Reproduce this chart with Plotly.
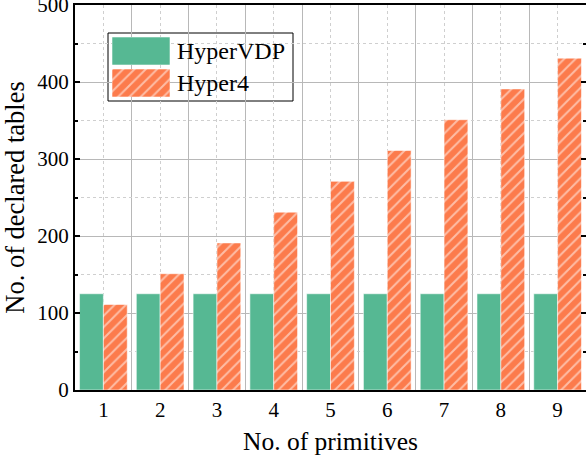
import plotly.graph_objects as go

# Data
primitives = [1, 2, 3, 4, 5, 6, 7, 8, 9]
hypervdp_tables = [125, 125, 125, 125, 125, 125, 125, 125, 125]
hyper4_tables = [111, 151, 191, 231, 271, 311, 351, 391, 431]
series_names = ["HyperVDP", "Hyper4"]
y_ticks = [0, 100, 200, 300, 400, 500]

GREEN = "#56B893"
ORANGE = "#FC7B4C"
FONT = "Liberation Serif, Times New Roman, serif"
GRID_SOLID = "#b8b8b8"
GRID_DOT = "#cfcfcf"
HATCH = dict(shape="/", fgcolor="white", bgcolor=ORANGE, size=8, solidity=0.25)
EDGE = dict(color="rgba(255,255,255,0.55)", width=1)

fig = go.Figure()

fig.add_trace(go.Bar(
    x=primitives, y=hypervdp_tables, name=series_names[0],
    marker=dict(color=GREEN, line=EDGE), showlegend=False,
))
fig.add_trace(go.Bar(
    x=primitives, y=hyper4_tables, name=series_names[1],
    marker=dict(color=ORANGE, line=EDGE, pattern=HATCH), showlegend=False,
))

# Legend swatches as small bar subplots
fig.add_trace(go.Bar(
    x=[1], y=[0], orientation="h", width=1, xaxis="x2", yaxis="y2",
    marker=dict(color=GREEN, line=EDGE), showlegend=False, hoverinfo="skip",
))
fig.add_trace(go.Bar(
    x=[1], y=[0], orientation="h", width=1, xaxis="x3", yaxis="y3",
    marker=dict(color=ORANGE, line=EDGE, pattern=HATCH), showlegend=False, hoverinfo="skip",
))

W, H = 586, 458
ML, MR, MT, MB = 75, 0, 5, 68
pw, ph = W - ML - MR, H - MT - MB


def px_x(v):
    return (v - ML) / pw


def px_y(v):
    return (H - MB - v) / ph


swatch_x = [px_x(112), px_x(170)]

fig.update_layout(
    width=W, height=H,
    margin=dict(l=ML, r=MR, t=MT, b=MB, autoexpand=False),
    paper_bgcolor="white", plot_bgcolor="white",
    barmode="group", bargap=0.16, bargroupgap=0,
    font=dict(family=FONT, color="black", size=21),
    showlegend=False,
    xaxis=dict(
        range=[0.5, 9.5], tickvals=primitives, ticktext=[str(p) for p in primitives],
        showline=True, linecolor="black", linewidth=2, mirror=True, automargin=False,
        ticks="", showgrid=True, gridcolor=GRID_DOT, gridwidth=1, griddash="3px,3px",
        minor=dict(tickvals=[p + 0.5 for p in primitives[:-1]], showgrid=True,
                   gridcolor=GRID_SOLID, gridwidth=1, griddash="solid", ticks=""),
        tickfont=dict(size=21),
        title=dict(text="No. of primitives", font=dict(size=25.5), standoff=11),
        zeroline=False,
    ),
    yaxis=dict(
        range=[0, 500], tickvals=y_ticks, ticklabeloverflow="allow", automargin=False,
        showline=True, linecolor="black", linewidth=2, mirror=False,
        ticks="inside", ticklen=5, tickwidth=1.5, tickcolor="black",
        showgrid=True, gridcolor=GRID_SOLID, gridwidth=1,
        minor=dict(tickvals=[50, 150, 250, 350, 450], showgrid=True,
                   gridcolor=GRID_DOT, gridwidth=1, griddash="3px,3px",
                   ticks="inside", ticklen=3, tickcolor="black"),
        tickfont=dict(size=21),
        title=dict(text="No. of declared tables", font=dict(size=26.5), standoff=5),
        zeroline=False,
    ),
    yaxis4=dict(
        overlaying="y", side="right", anchor="x", range=[0, 500], tickvals=y_ticks,
        showline=False, showgrid=False, showticklabels=False, automargin=False,
        ticks="inside", ticklen=5, tickwidth=1.5, tickcolor="black",
        minor=dict(tickvals=[50, 150, 250, 350, 450], ticks="inside",
                   ticklen=3, tickcolor="black", showgrid=False),
        zeroline=False,
    ),
    xaxis2=dict(domain=swatch_x, range=[0, 1], visible=False, anchor="y2"),
    yaxis2=dict(domain=[px_y(65), px_y(37)], range=[-0.5, 0.5], visible=False, anchor="x2"),
    xaxis3=dict(domain=swatch_x, range=[0, 1], visible=False, anchor="y3"),
    yaxis3=dict(domain=[px_y(97), px_y(69)], range=[-0.5, 0.5], visible=False, anchor="x3"),
)

# Dummy trace to activate the right-side tick axis
fig.add_trace(go.Scatter(x=[None], y=[None], yaxis="y4", showlegend=False, hoverinfo="skip"))

# Legend frame and labels
fig.add_shape(type="rect", xref="paper", yref="paper",
              x0=px_x(108), x1=px_x(293), y0=px_y(101), y1=px_y(33),
              line=dict(color="black", width=1), fillcolor="white", layer="below")
for name, yc in zip(series_names, [51, 83]):
    fig.add_annotation(text=name, xref="paper", yref="paper",
                       x=px_x(175), y=px_y(yc), xanchor="left", yanchor="middle",
                       showarrow=False, font=dict(size=24, family=FONT, color="black"))

fig.write_html("out.html")
